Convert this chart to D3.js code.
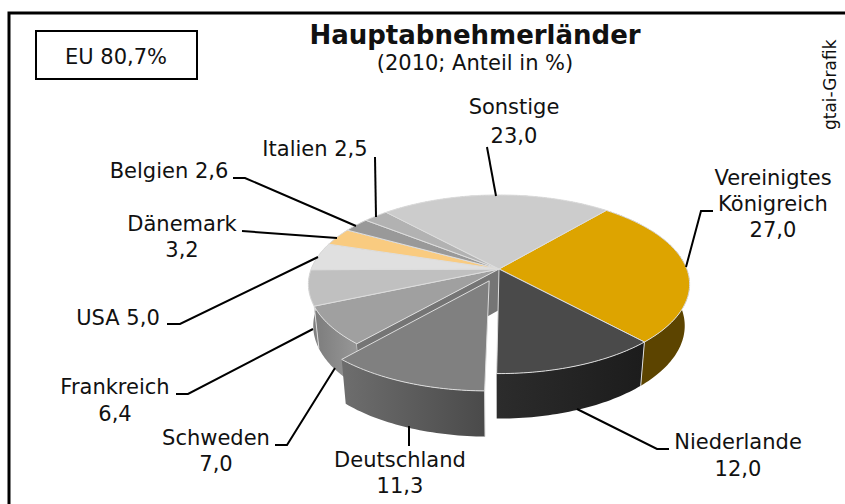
<!DOCTYPE html>
<html lang="de">
<head>
    <meta charset="UTF-8">
    <title>Hauptabnehmerländer</title>
    <script src="https://d3js.org/d3.v7.min.js"></script>
    <style>
        body { margin: 0; background: #fff; }
        svg { display: block; font-family: 'DejaVu Sans', sans-serif; fill: #111; }
        .label { font-size: 21px; text-anchor: middle; }
        .leader { fill: none; stroke: #000; stroke-width: 2; }
        .edge { stroke: #ddd; stroke-width: 1; stroke-linejoin: round; }
    </style>
</head>
<body>
    <svg width="845" height="504">
        <defs></defs>
    </svg>

    <script>
        const categories = ["Vereinigtes Königreich", "Niederlande", "Deutschland", "Schweden", "Frankreich",
            "USA", "Dänemark", "Belgien", "Italien", "Sonstige"];
        const shares = [27.0, 12.0, 11.3, 7.0, 6.4, 5.0, 3.2, 2.6, 2.5, 23.0];
        const explodedCategory = "Deutschland";

        const topColors = ["#dda400", "#4a4a4a", "#808080", "#a0a0a0", "#c0c0c0",
            "#e0e0e0", "#f9cb80", "#999999", "#b2b2b2", "#cccccc"];
        const sideColors = [["#5c4400", "#5c4400"], ["#2c2c2c", "#1c1c1c"], ["#6e6e6e", "#4a4a4a"], ["#7c7c7c", "#999999"],
            ["#6f6f6f", "#8a8a8a"], ["#909090", "#909090"], ["#aaa", "#aaa"], ["#777", "#777"], ["#888", "#888"], ["#999", "#999"]];

        // label text positions and leader lines, one entry per category
        const labelLayout = {
            "Vereinigtes Königreich": {x: 773, ys: [185, 211, 237], lines: ["Vereinigtes", "Königreich"], leader: [[686, 267], [701, 211], [713, 211]]},
            "Niederlande": {x: 738, ys: [449, 476], leader: [[577, 409], [657, 449], [669, 449]]},
            "Deutschland": {x: 400, ys: [467, 493], leader: [[409, 426], [409, 446]]},
            "Schweden": {x: 216, ys: [445, 471], leader: [[335, 368], [287, 445], [275, 445]]},
            "Frankreich": {x: 115, ys: [394, 421], leader: [[313, 329], [188, 394], [176, 394]]},
            "USA": {x: 118, ys: [325], inline: true, leader: [[318, 257], [180, 324], [167, 324]]},
            "Dänemark": {x: 182, ys: [231, 257], leader: [[337, 238], [242, 231]]},
            "Belgien": {x: 169, ys: [178], inline: true, leader: [[356, 226], [245, 178], [233, 178]]},
            "Italien": {x: 315, ys: [156], inline: true, leader: [[376, 217], [375, 157]]},
            "Sonstige": {x: 514, ys: [114, 143], leader: [[496, 196], [487, 147]]}
        };

        const svg = d3.select("svg");
        const defs = svg.select("defs");

        // perspective disk: u to the right, v towards the viewer, both in -1..1
        const center = {x: 499, y: 269};
        const perspective = 0.171;
        const planes = {
            top: {rx: 187.8, ry: 86.7, dy: 0},
            bottom: {rx: 183, ry: 90, dy: 41}
        };
        const explodeBy = 0.143;

        function project(u, v, plane) {
            const w = 1 - perspective * v;
            return [center.x + plane.rx * u / w, center.y + plane.dy + plane.ry * v / w];
        }

        const startAngle = 40.2 * Math.PI / 180;
        const pie = d3.pie().sort(null).startAngle(startAngle).endAngle(startAngle + 2 * Math.PI);
        const arcs = pie(shares).map((a, i) => {
            const mid = (a.startAngle + a.endAngle) / 2;
            const exploded = categories[i] === explodedCategory;
            return {
                ...a,
                i,
                name: categories[i],
                exploded,
                ox: exploded ? explodeBy * Math.sin(mid) : 0,
                oy: exploded ? -explodeBy * Math.cos(mid) : 0
            };
        });

        const format = d3.formatLocale({decimal: ",", thousands: ".", grouping: [3], currency: ["", "€"]}).format(".1f");
        const line = d3.line();

        function rim(d, plane) {
            const n = Math.max(2, Math.ceil((d.endAngle - d.startAngle) / 0.02));
            return d3.range(n + 1).map(k => {
                const t = d.startAngle + (d.endAngle - d.startAngle) * k / n;
                return project(Math.sin(t) + d.ox, -Math.cos(t) + d.oy, plane);
            });
        }

        function apex(d, plane) {
            return project(d.ox, d.oy, plane);
        }

        function gradient(d) {
            const id = `side-${d.i}`;
            const g = defs.append("linearGradient").attr("id", id);
            g.append("stop").attr("offset", "0%").attr("stop-color", sideColors[d.i][0]);
            g.append("stop").attr("offset", "100%").attr("stop-color", sideColors[d.i][1]);
            return `url(#${id})`;
        }

        function drawSide(group, d) {
            const path = rim(d, planes.top).concat(rim(d, planes.bottom).reverse());
            group.append("path")
                .attr("d", line(path) + "Z")
                .attr("fill", gradient(d));
            group.append("path")
                .attr("class", "edge")
                .attr("fill", "none")
                .attr("d", line([rim(d, planes.top)[0], rim(d, planes.bottom)[0]]));
        }

        function drawTop(group, d) {
            const path = [apex(d, planes.top)].concat(rim(d, planes.top));
            group.append("path")
                .attr("class", "edge")
                .attr("d", line(path) + "Z")
                .attr("fill", topColors[d.i]);
        }

        const pieGroup = svg.append("g");
        const base = arcs.filter(d => !d.exploded);
        const piece = arcs.filter(d => d.exploded);

        // back to front: outer walls, cut wall behind the pulled-out piece, tops
        base.forEach(d => drawSide(pieGroup, d));

        const afterGap = arcs[piece[0].i + 1];
        const cutTop = rim(afterGap, planes.top)[0];
        const cutBottom = rim(afterGap, planes.bottom)[0];
        pieGroup.append("path")
            .attr("d", line([apex(afterGap, planes.top), cutTop, cutBottom, apex(afterGap, planes.bottom)]) + "Z")
            .attr("fill", "#757575");

        base.forEach(d => drawTop(pieGroup, d));
        piece.forEach(d => {
            drawSide(pieGroup, d);
            drawTop(pieGroup, d);
        });

        // frame, cut off by the right and bottom edge of the picture
        svg.append("path")
            .attr("d", "M845,13H9V504")
            .attr("fill", "none")
            .attr("stroke", "#000")
            .attr("stroke-width", 3);

        svg.append("rect")
            .attr("x", 36).attr("y", 31)
            .attr("width", 161).attr("height", 48)
            .attr("fill", "#fff")
            .attr("stroke", "#000")
            .attr("stroke-width", 2);
        svg.append("text")
            .attr("class", "label")
            .attr("x", 116).attr("y", 64)
            .text("EU 80,7%");

        svg.append("text")
            .attr("x", 475).attr("y", 44)
            .attr("text-anchor", "middle")
            .attr("font-size", 26)
            .attr("font-weight", "bold")
            .text("Hauptabnehmerländer");
        svg.append("text")
            .attr("class", "label")
            .attr("x", 475).attr("y", 70)
            .text("(2010; Anteil in %)");

        svg.append("text")
            .attr("transform", "translate(836,130) rotate(-90)")
            .attr("font-size", 17)
            .text("gtai-Grafik");

        arcs.forEach(d => {
            const layout = labelLayout[d.name];
            const value = format(shares[d.i]);
            let lines;
            if (layout.inline) lines = [`${d.name} ${value}`];
            else lines = (layout.lines || [d.name]).concat(value);
            svg.selectAll(null)
                .data(lines)
                .join("text")
                .attr("class", "label")
                .attr("x", layout.x)
                .attr("y", (t, i) => layout.ys[i])
                .text(t => t);
            svg.append("path")
                .attr("class", "leader")
                .attr("d", line(layout.leader));
        });
    </script>
</body>
</html>
